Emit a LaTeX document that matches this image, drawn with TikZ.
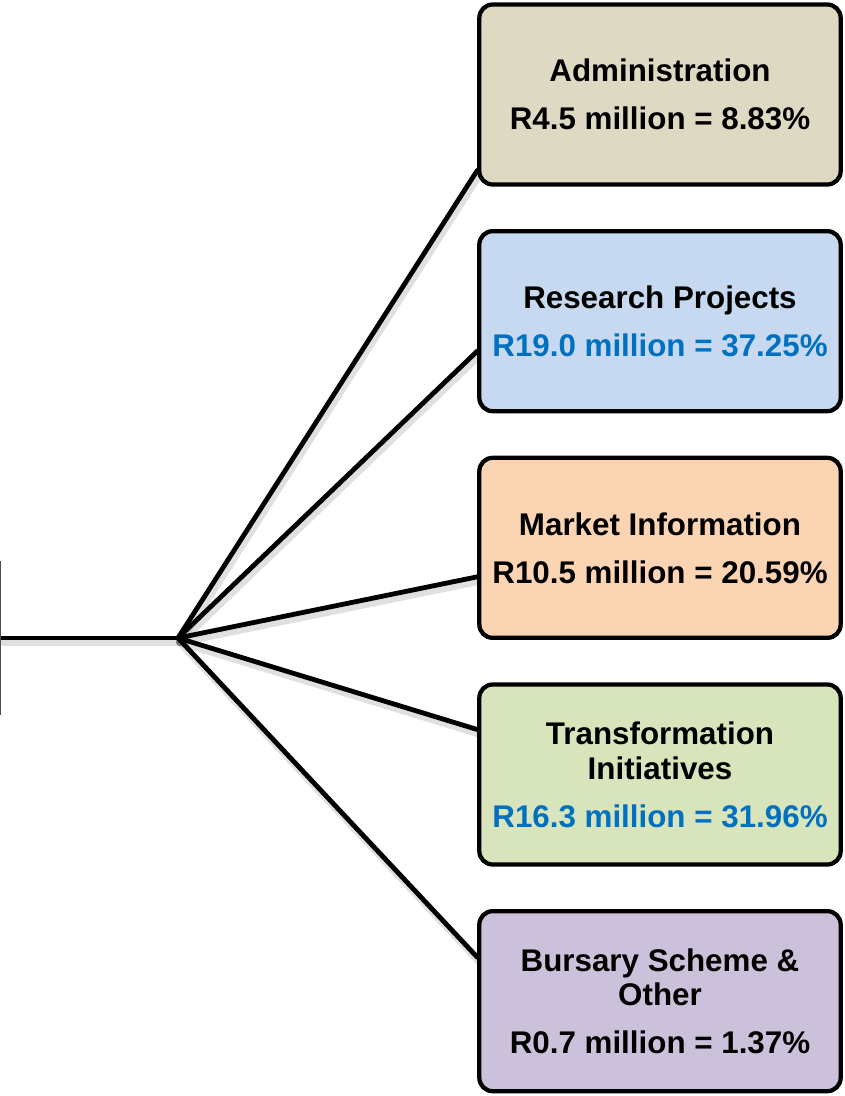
\documentclass[tikz,border=0pt]{standalone}
\usepackage{fontspec}
\setmainfont{Liberation Sans}
\usepackage{xcolor}
\usetikzlibrary{positioning,calc,backgrounds}

\definecolor{admfill}{HTML}{DDD9C3}
\definecolor{resfill}{HTML}{C6D9F0}
\definecolor{mktfill}{HTML}{FBD4B4}
\definecolor{trffill}{HTML}{D7E4BC}
\definecolor{bursfill}{HTML}{CCC1DA}
\definecolor{valblue}{HTML}{0070C0}

\begin{document}
\begin{tikzpicture}[
  x=0.75pt, y=-0.75pt,
  font={\bfseries\fontsize{23.5}{26}\selectfont},
  item/.style={draw=black, line width=3.2pt, rounded corners=10pt,
               minimum width=271pt, minimum height=135pt,
               align=center, inner sep=2pt},
  rootbox/.style={draw=black!70, line width=0.8pt,
                  minimum width=150pt, minimum height=115pt},
  link/.style={draw=black, line width=3.6pt, line cap=round},
  linkshade/.style={draw=black, line width=6pt, opacity=0.12, line cap=round}
]
\useasboundingbox (0,0) rectangle (845,1096);
\clip (0,0) rectangle (845,1096);

% ==================== Budget items ====================
\node[item, fill=admfill] (adm) at (660,94.5)
  {Administration\\[10pt]R4.5 million = 8.83\%};
\node[item, fill=resfill, below=31.8pt of adm] (research)
  {Research Projects\\[10pt]\color{valblue}R19.0 million = 37.25\%};
\node[item, fill=mktfill, below=31.8pt of research] (market)
  {Market Information\\[10pt]R10.5 million = 20.59\%};
\node[item, fill=trffill, below=31.8pt of market] (transform)
  {Transformation\\Initiatives\\[10pt]\color{valblue}R16.3 million = 31.96\%};
\node[item, fill=bursfill, below=31.8pt of transform] (bursary)
  {Bursary Scheme \&\\Other\\[10pt]R0.7 million = 1.37\%};

% total box, mostly off the page
\node[rootbox, anchor=east] (root) at (1,638) {};
\coordinate (hub) at (178,638);

% ==================== Fan-out ====================
\begin{scope}[on background layer]
  \draw[linkshade] ($(root.east)+(2,4)$) -- ($(hub)+(2,4)$);
  \foreach \n/\dy in {adm/76, research/30, market/29, transform/-45, bursary/-44}
    \draw[linkshade] ($(hub)+(2,4)$) -- ($(\n.west)+(2,4+\dy)$);
  \draw[link] (root.east) -- (hub);
  \foreach \n/\dy in {adm/76, research/30, market/29, transform/-45, bursary/-44}
    \draw[link] (hub) -- ($(\n.west)+(0,\dy)$);
\end{scope}

\end{tikzpicture}
\end{document}
